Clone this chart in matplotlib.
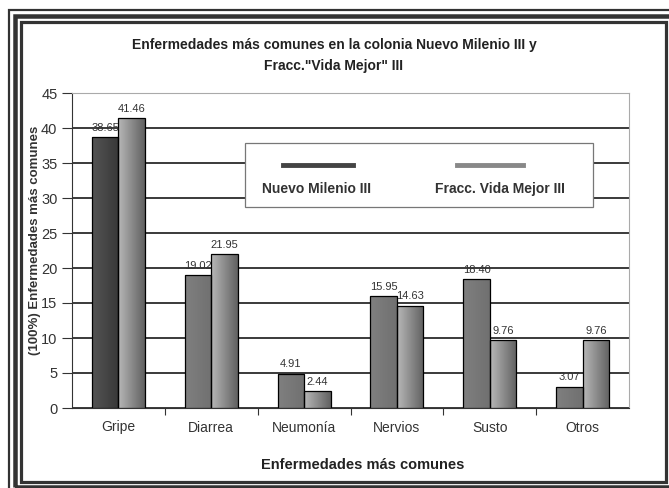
import numpy as np
import matplotlib.pyplot as plt
from matplotlib.patches import Rectangle
from matplotlib.lines import Line2D

plt.rcParams['font.family'] = ['Liberation Sans', 'DejaVu Sans']

# data
categories = ['Gripe', 'Diarrea', 'Neumonía', 'Nervios', 'Susto', 'Otros']
nuevo_milenio = [38.65, 19.02, 4.91, 15.95, 18.40, 3.07]
vida_mejor = [41.46, 21.95, 2.44, 14.63, 9.76, 9.76]
series_names = ['Nuevo Milenio III', 'Fracc. Vida Mejor III']

W, H = 669, 488
fig = plt.figure(figsize=(W / 100, H / 100), dpi=100)
fig.patch.set_facecolor('white')


def px(x, y):
    return x / W, 1 - y / H


# framed border (outer line, thick band, inner line)
for x0, y0, x1, y1, lw in [(8.7, 10, 672, 492, 2.2), (14.5, 16, 671, 487, 4.5), (21, 22.5, 666, 481.5, 3.2)]:
    (fx0, fy1), (fx1, fy0) = px(x0, y0), px(x1, y1)
    fig.patches.append(Rectangle((fx0, fy0), fx1 - fx0, fy1 - fy0, transform=fig.transFigure,
                                 fill=False, edgecolor='#333333', linewidth=lw * 0.72, zorder=10))

ax = fig.add_axes([72 / W, 1 - 408 / H, (629 - 72) / W, (408 - 93) / H])

x = np.arange(len(categories))
bw = 0.285


def gradient_bar(rect, c_left, c_right):
    grad = np.linspace(0, 1, 64)[None, :]
    c0 = np.array(c_left)
    c1 = np.array(c_right)
    img = c0[None, None, :] * (1 - grad[..., None]) + c1[None, None, :] * grad[..., None]
    x0, y0 = rect.get_x(), rect.get_y()
    im = ax.imshow(img, extent=[x0, x0 + rect.get_width(), y0, y0 + rect.get_height()],
                   aspect='auto', zorder=3, interpolation='bilinear')
    im.set_clip_path(rect)


bars1 = ax.bar(x - bw / 2, nuevo_milenio, bw, facecolor='#777777', edgecolor='black', linewidth=0.9, zorder=4)
bars2 = ax.bar(x + bw / 2, vida_mejor, bw, facecolor='#999999', edgecolor='black', linewidth=0.9, zorder=4)

for i, b in enumerate(bars1):
    b.set_facecolor('none')
    if i == 0:
        gradient_bar(b, (0.33, 0.33, 0.33), (0.22, 0.22, 0.22))
    else:
        gradient_bar(b, (0.50, 0.50, 0.50), (0.44, 0.44, 0.44))
for b in bars2:
    b.set_facecolor('none')
    gradient_bar(b, (0.72, 0.72, 0.72), (0.38, 0.38, 0.38))

for bars, vals in [(bars1, nuevo_milenio), (bars2, vida_mejor)]:
    for b, v in zip(bars, vals):
        ax.annotate(f'{v:.2f}', (b.get_x() + b.get_width() / 2, v), xytext=(0, 3),
                    textcoords='offset points', ha='center', va='bottom', fontsize=8,
                    color='#333333', zorder=6)

ax.set_xlim(-0.5, len(categories) - 0.5)
ax.set_ylim(0, 45)
ax.set_yticks(np.arange(0, 46, 5))
ax.set_xticks(x)
ax.set_xticklabels(categories, fontsize=10, color='#333333')
ax.set_xticks(np.arange(0.5, len(categories) - 0.5, 1), minor=True)
ax.tick_params(axis='x', which='major', length=0, pad=9)
ax.tick_params(axis='x', which='minor', length=5, width=0.8, direction='out', color='#333333')
ax.tick_params(axis='y', length=7, width=0.8, labelsize=10.5, labelcolor='#333333', color='#333333')

ax.yaxis.grid(True, color='#3a3a3a', linewidth=1.4, zorder=1)
ax.set_axisbelow(True)
for s in ['top', 'right']:
    ax.spines[s].set_color('#aaaaaa')
    ax.spines[s].set_linewidth(0.8)
ax.spines['left'].set_color('#333333')
ax.spines['bottom'].set_color('#333333')

# legend box with lines above the labels
lx0, ly0, lx1, ly1 = px(245, 207) + px(593, 143)
leg_box = Rectangle((lx0, ly0), lx1 - lx0, ly1 - ly0, transform=fig.transFigure,
                    facecolor='white', edgecolor='#777777', linewidth=0.9, zorder=20)
fig.patches.append(leg_box)
for name, col, hx, cx in [(series_names[0], '#444444', (283, 353), 317),
                          (series_names[1], '#888888', (457, 523), 500)]:
    hx0, hy = px(hx[0], 165)
    hx1, _ = px(hx[1], 165)
    fig.lines.append(Line2D([hx0, hx1], [hy, hy], transform=fig.transFigure, color=col,
                            linewidth=3.5, zorder=21))
    tx, ty = px(cx, 189)
    fig.text(tx, ty, name, ha='center', va='center', fontsize=10, fontweight='bold',
             zorder=22, color='#333333')

tx, ty = px(334, 45)
fig.text(tx, ty, 'Enfermedades más comunes en la colonia Nuevo Milenio III y',
         ha='center', va='center', fontsize=10, fontweight='bold', color='#222222')
tx, ty = px(334, 66)
fig.text(tx, ty, 'Fracc."Vida Mejor" III', ha='center', va='center', fontsize=10,
         fontweight='bold', color='#222222')

tx, ty = px(363, 465)
fig.text(tx, ty, 'Enfermedades más comunes', ha='center', va='center', fontsize=10.5,
         fontweight='bold', color='#222222')
tx, ty = px(35, 240)
fig.text(tx, ty, '(100%) Enfermedades más comunes', ha='center', va='center', rotation=90,
         fontsize=9.5, fontweight='bold', color='#333333')

fig.savefig('out.png', dpi=100)
